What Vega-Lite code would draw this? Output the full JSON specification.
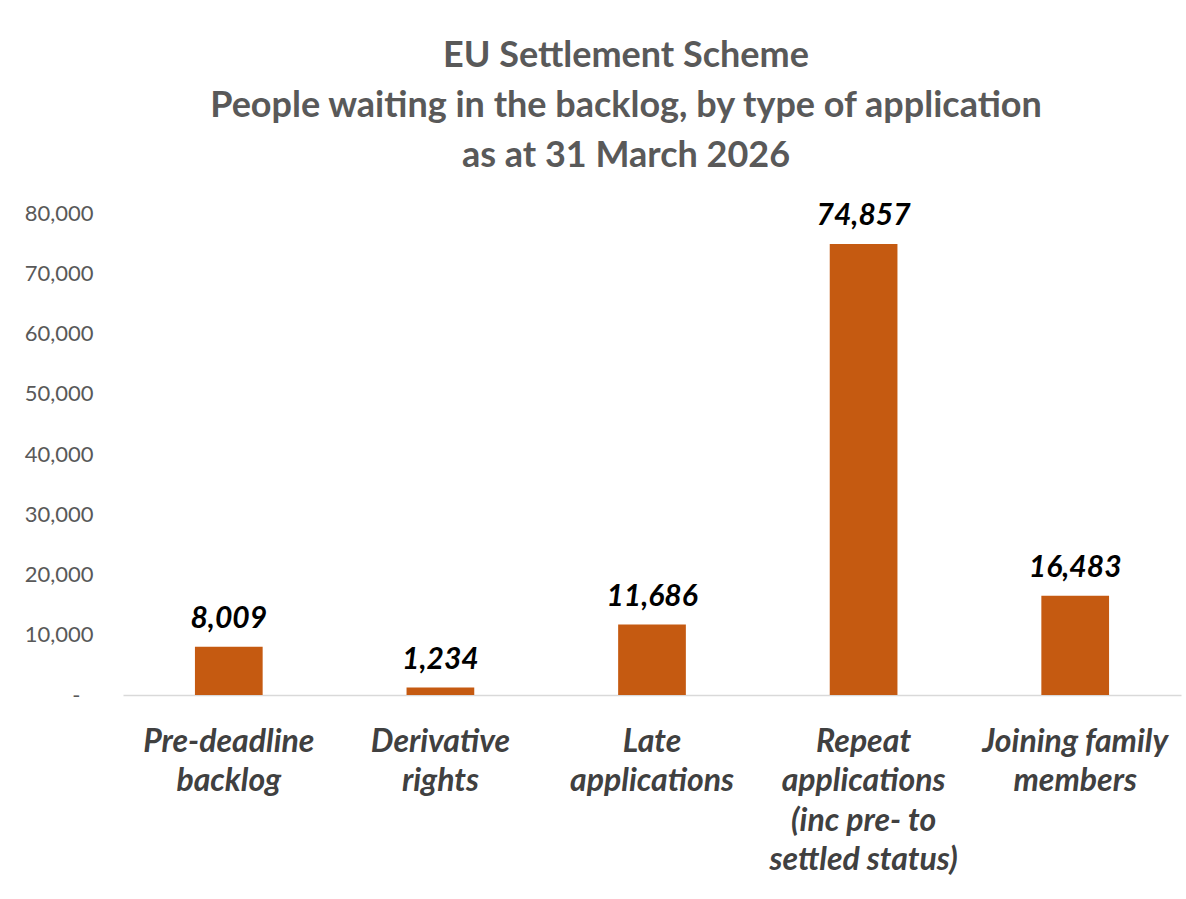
{
  "$schema": "https://vega.github.io/schema/vega-lite/v6.json",
  "autosize": "none",
  "width": 1058,
  "height": 482,
  "padding": {"left": 123, "top": 213, "right": 5, "bottom": 204},
  "background": "white",
  "title": {
    "text": ["EU Settlement Scheme", "People waiting in the backlog, by type of application", "as at 31 March 2026"],
    "font": "Lato",
    "fontSize": 36,
    "fontWeight": "bold",
    "color": "#595959",
    "lineHeight": 50,
    "anchor": "middle",
    "dx": -26,
    "offset": 26
  },
  "data": {
    "values": [
      {"category": "Pre-deadline backlog", "value": 8009},
      {"category": "Derivative rights", "value": 1234},
      {"category": "Late applications", "value": 11686},
      {"category": "Repeat applications (inc pre- to settled status)", "value": 74857},
      {"category": "Joining family members", "value": 16483}
    ]
  },
  "encoding": {
    "x": {
      "field": "category",
      "type": "nominal",
      "sort": null,
      "scale": {"paddingInner": 0.68, "paddingOuter": 0.34},
      "axis": {
        "title": null,
        "labelAngle": 0,
        "labelFont": "Lato",
        "labelFontSize": 32,
        "labelFontStyle": "italic",
        "labelFontWeight": "bold",
        "labelColor": "#404040",
        "labelLineHeight": 39.5,
        "labelPadding": 31,
        "labelLimit": 400,
        "ticks": false,
        "domainColor": "#d9d9d9",
        "domainWidth": 1.5,
        "labelExpr": "datum.value == 'Pre-deadline backlog' ? ['Pre-deadline', 'backlog'] : datum.value == 'Derivative rights' ? ['Derivative', 'rights'] : datum.value == 'Late applications' ? ['Late', 'applications'] : datum.value == 'Joining family members' ? ['Joining family', 'members'] : ['Repeat', 'applications', '(inc pre- to', 'settled status)']"
      }
    },
    "y": {
      "field": "value",
      "type": "quantitative",
      "scale": {"domain": [0, 80000], "nice": false},
      "axis": {
        "title": null,
        "values": [0, 10000, 20000, 30000, 40000, 50000, 60000, 70000, 80000],
        "grid": false,
        "domain": false,
        "ticks": false,
        "labelFont": "Lato",
        "labelFontSize": 22,
        "labelColor": "#595959",
        "labelPadding": {"condition": {"test": "datum.value == 0", "value": 43}, "value": 30},
        "labelExpr": "datum.value == 0 ? '-' : format(datum.value, ',')"
      }
    }
  },
  "layer": [
    {"mark": {"type": "bar", "color": "#C55A11"}},
    {
      "mark": {"type": "text", "baseline": "bottom", "dy": -13, "font": "Lato", "fontSize": 30, "fontStyle": "italic", "fontWeight": "bold", "color": "#000000"},
      "encoding": {"text": {"field": "value", "type": "quantitative", "format": ","}}
    }
  ],
  "config": {"view": {"stroke": null}}
}
